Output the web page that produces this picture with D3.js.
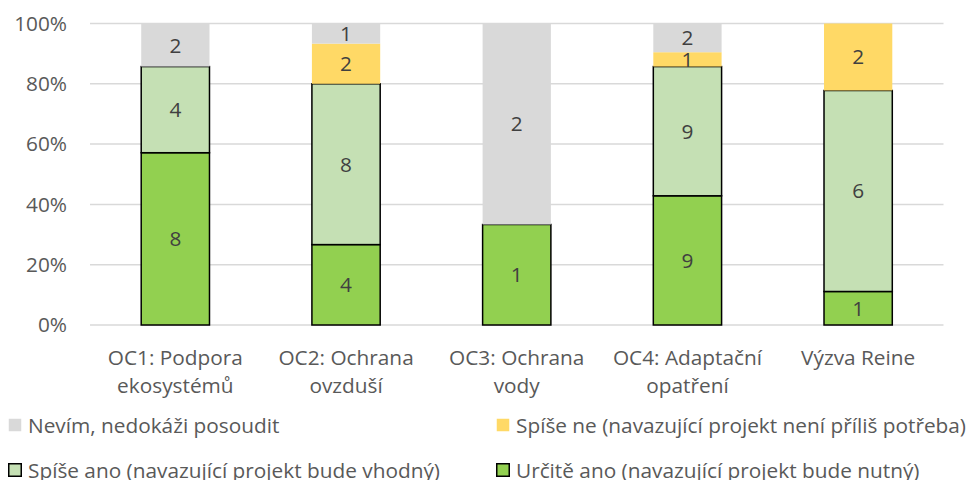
<!DOCTYPE html>
<html>
<head>
<meta charset="utf-8">
<script src="https://cdn.jsdelivr.net/npm/d3@7"></script>
<style>
  body { margin: 0; background: #fff; }
  svg text { font-family: "Open Sans", Lato, sans-serif; fill: #595959; }
</style>
</head>
<body>
<svg id="chart" width="972" height="480"></svg>
<script>
"use strict";

// categories and answer counts per series (bottom to top)
const categories = [
  ["OC1: Podpora", "ekosystémů"],
  ["OC2: Ochrana", "ovzduší"],
  ["OC3: Ochrana", "vody"],
  ["OC4: Adaptační", "opatření"],
  ["Výzva Reine"],
];
const urciteAno = [8, 4, 1, 9, 1];
const spiseAno = [4, 8, 0, 9, 6];
const spiseNe = [0, 2, 0, 1, 2];
const nevim = [2, 1, 2, 2, 0];
const yTicks = [0, 0.2, 0.4, 0.6, 0.8, 1];

const seriesList = [
  { name: "Určitě ano (navazující projekt bude nutný)", values: urciteAno, color: "#92d050", stroke: "#000" },
  { name: "Spíše ano (navazující projekt bude vhodný)", values: spiseAno, color: "#c5e0b4", stroke: "#000" },
  { name: "Spíše ne (navazující projekt není příliš potřeba)", values: spiseNe, color: "#ffd966", stroke: "none" },
  { name: "Nevím, nedokáži posoudit", values: nevim, color: "#d9d9d9", stroke: "none" },
];

const fontSize = 20.8;
const svg = d3.select("#chart");
const plot = { left: 90, right: 943.5, top: 23.5, bottom: 325 };

const x = d3.scaleBand()
  .domain(d3.range(categories.length))
  .range([plot.left, plot.right])
  .paddingInner(0.6)
  .paddingOuter(0.3);

const y = d3.scaleLinear().domain([0, 1]).range([plot.bottom, plot.top]);

//gridlines
svg.append("g")
  .selectAll("line")
  .data(yTicks)
  .join("line")
  .attr("x1", plot.left)
  .attr("x2", plot.right)
  .attr("y1", (d) => y(d))
  .attr("y2", (d) => y(d))
  .attr("stroke", "#d9d9d9")
  .attr("stroke-width", 1.5);

//y axis labels
const yAxis = d3.axisLeft(y).tickValues(yTicks).tickFormat(d3.format(".0%")).tickSize(0).tickPadding(0);
svg.append("g")
  .attr("transform", "translate(67,0)")
  .call(yAxis)
  .call((g) => g.select(".domain").remove())
  .selectAll("text")
  .attr("font-size", fontSize)
  .attr("font-family", "'Open Sans', sans-serif")
  .attr("fill", "#595959");

//stack data
const rows = categories.map((c, i) => {
  const row = { i: i };
  seriesList.forEach((s, k) => (row[k] = s.values[i]));
  return row;
});
const stack = d3.stack()
  .keys(seriesList.map((s, k) => k))
  .offset(d3.stackOffsetExpand);
const stacked = stack(rows);

const layers = svg.append("g")
  .selectAll("g")
  .data(stacked)
  .join("g");

layers.selectAll("rect")
  .data((d) => d.map((v) => ({ v: v, s: seriesList[d.key] })))
  .join("rect")
  .filter((d) => d.v[1] - d.v[0] > 0)
  .attr("x", (d) => x(d.v.data.i))
  .attr("width", x.bandwidth())
  .attr("y", (d) => y(d.v[1]))
  .attr("height", (d) => y(d.v[0]) - y(d.v[1]))
  .attr("fill", (d) => d.s.color)
  .attr("stroke", (d) => d.s.stroke)
  .attr("stroke-width", 1.5);

//value labels
layers.selectAll("text")
  .data((d) => d.map((v) => ({ v: v, s: seriesList[d.key], key: d.key })))
  .join("text")
  .filter((d) => d.v[1] - d.v[0] > 0)
  .attr("x", (d) => x(d.v.data.i) + x.bandwidth() / 2)
  .attr("y", (d) => (y(d.v[0]) + y(d.v[1])) / 2)
  .attr("dy", "0.36em")
  .attr("text-anchor", "middle")
  .attr("font-size", fontSize)
  .style("fill", "#404040")
  .text((d) => d.s.values[d.v.data.i]);

//x labels
const xl = svg.append("g")
  .selectAll("text")
  .data(categories)
  .join("text")
  .attr("x", (d, i) => x(i) + x.bandwidth() / 2)
  .attr("y", 365)
  .attr("text-anchor", "middle")
  .attr("font-size", fontSize);
xl.selectAll("tspan")
  .data((d) => d)
  .join("tspan")
  .attr("x", function () { return this.parentNode.getAttribute("x"); })
  .attr("dy", (d, j) => (j === 0 ? 0 : 28))
  .text((d) => d);

//legend
const legendOrder = [3, 2, 1, 0];
const legendPos = [[8, 425], [496, 425], [8, 470], [496, 470]];
const legend = svg.append("g")
  .selectAll("g")
  .data(legendOrder)
  .join("g")
  .attr("transform", (d, i) => `translate(${legendPos[i][0]},${legendPos[i][1]})`);
legend.append("rect")
  .attr("x", 0.75)
  .attr("y", -6.25)
  .attr("width", 12.5)
  .attr("height", 12.5)
  .attr("fill", (d) => seriesList[d].color)
  .attr("stroke", (d) => seriesList[d].stroke)
  .attr("stroke-width", 1.5);
legend.append("text")
  .attr("x", 20)
  .attr("dy", "0.36em")
  .attr("font-size", fontSize)
  .text((d) => seriesList[d].name);
</script>
</body>
</html>
